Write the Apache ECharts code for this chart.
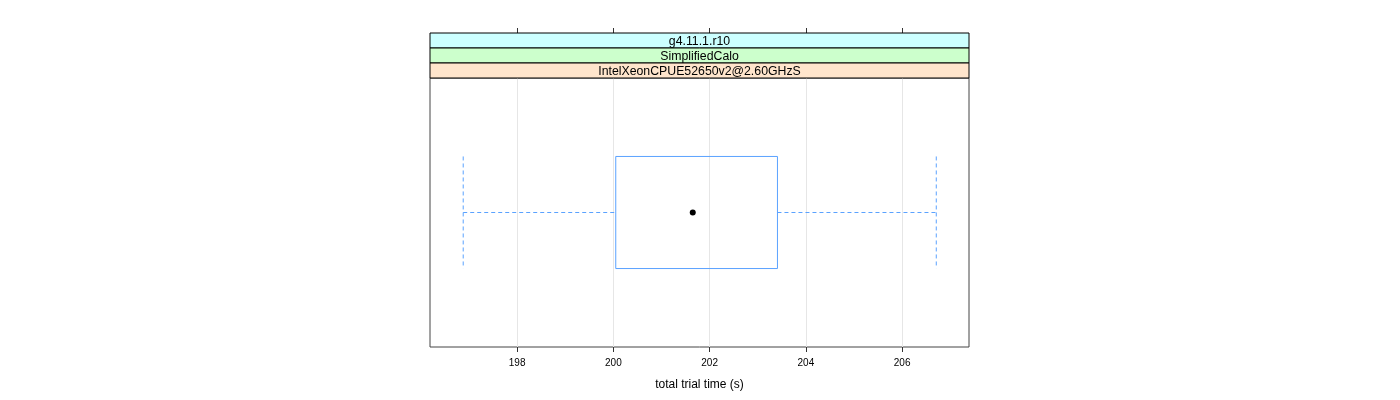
<!DOCTYPE html>
<html>
<head>
<meta charset="utf-8">
<script src="https://cdn.jsdelivr.net/npm/echarts@6/dist/echarts.min.js"></script>
<style>html,body{margin:0;padding:0;background:#fff;}#c{width:1400px;height:400px;}</style>
</head>
<body>
<div id="c"></div>
<script>
// ---- data ----
const categories = ['IntelXeonCPUE52650v2@2.60GHzS'];
const lowWhisker = [196.88];
const q1 = [200.05];
const median = [201.65];
const q3 = [203.41];
const highWhisker = [206.71];
const tickValues = [198, 200, 202, 204, 206];
const stripLabels = ['g4.11.1.r10', 'SimplifiedCalo', 'IntelXeonCPUE52650v2@2.60GHzS'];
const stripColors = ['#ccffff', '#ccffcc', '#ffe5cc'];
const xTitle = 'total trial time (s)';

const FONT = '"Liberation Sans", Arial, sans-serif';
const G = {left: 430, right: 431, top: 78, bottom: 53};
const panelW = 1400 - G.left - G.right;
const stripH = 15;

const boxData = categories.map((c, i) => [i, lowWhisker[i], q1[i], median[i], q3[i], highWhisker[i]]);

const boxColor = '#5aa2ff';

function renderItem(params, api) {
  const ci = api.value(0);
  const lo = api.coord([api.value(1), ci]);
  const a = api.coord([api.value(2), ci]);
  const m = api.coord([api.value(3), ci]);
  const b = api.coord([api.value(4), ci]);
  const hi = api.coord([api.value(5), ci]);
  const band = api.size([0, 1])[1];
  const half = band * 0.4167 / 2;
  const y = a[1];
  const dash = {stroke: boxColor, lineWidth: 1, lineDash: [4, 3]};
  return {
    type: 'group',
    children: [
      {type: 'line', shape: {x1: lo[0], y1: y, x2: a[0], y2: y}, style: dash},
      {type: 'line', shape: {x1: b[0], y1: y, x2: hi[0], y2: y}, style: dash},
      {type: 'line', shape: {x1: lo[0], y1: y - half, x2: lo[0], y2: y + half}, style: dash},
      {type: 'line', shape: {x1: hi[0], y1: y - half, x2: hi[0], y2: y + half}, style: dash},
      {type: 'rect', shape: {x: a[0], y: y - half, width: b[0] - a[0], height: 2 * half},
        style: {fill: 'none', stroke: boxColor, lineWidth: 1}},
      {type: 'circle', shape: {cx: m[0], cy: m[1], r: 3}, style: {fill: '#000'}}
    ]
  };
}

const graphics = [];
stripLabels.forEach((lab, i) => {
  graphics.push({
    type: 'rect', z: 10,
    shape: {x: G.left, y: G.top - stripH * (stripLabels.length - i), width: panelW, height: stripH},
    style: {fill: stripColors[i], stroke: '#000', lineWidth: 1}
  });
  graphics.push({
    type: 'text', z: 11,
    x: G.left + panelW / 2, y: G.top - stripH * (stripLabels.length - i) + stripH / 2 + 1.5,
    style: {text: lab, fill: '#000', font: '12.3px ' + FONT, align: 'center', verticalAlign: 'middle'}
  });
});

const chart = echarts.init(document.getElementById('c'), null, {renderer: 'canvas'});
chart.setOption({
  animation: false,
  backgroundColor: '#fff',
  grid: {left: G.left, right: G.right, top: G.top, bottom: G.bottom, show: true, borderColor: '#444', borderWidth: 1, backgroundColor: 'transparent'},
  xAxis: [{
    type: 'value', min: 196.19, max: 207.39, position: 'bottom',
    axisLine: {show: false},
    axisTick: {show: true, inside: false, length: 5, customValues: tickValues, lineStyle: {color: '#333'}},
    axisLabel: {show: true, customValues: tickValues, margin: 11, color: '#000', fontSize: 10, fontFamily: FONT},
    splitLine: {show: true, lineStyle: {color: '#e6e6e6', width: 1}},
    name: xTitle, nameLocation: 'middle', nameGap: 32,
    nameTextStyle: {color: '#000', fontSize: 12, fontFamily: FONT}
  }, {
    type: 'value', min: 196.19, max: 207.39, position: 'top', offset: stripH * stripLabels.length,
    axisLine: {show: false},
    axisTick: {show: true, inside: false, length: 5, customValues: tickValues, lineStyle: {color: '#333'}},
    axisLabel: {show: false},
    splitLine: {show: false}
  }],
  yAxis: {
    type: 'category', data: categories,
    axisLine: {show: false}, axisTick: {show: false}, axisLabel: {show: false}, splitLine: {show: false}
  },
  series: [{
    type: 'custom', renderItem: renderItem, data: boxData,
    encode: {x: [1, 2, 3, 4, 5], y: 0}, clip: false
  }],
  graphic: graphics
});
</script>
</body>
</html>
